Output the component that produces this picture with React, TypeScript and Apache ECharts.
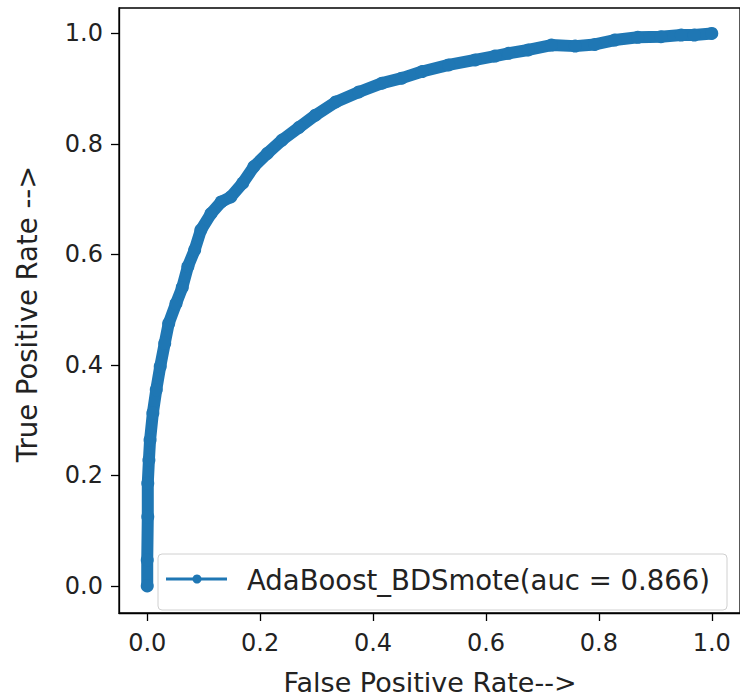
import React, { useEffect, useRef } from "react";
import * as echarts from "echarts";

const fpr = [0, 0, 0.001, 0.001, 0.003, 0.005, 0.010, 0.016, 0.023, 0.031, 0.038, 0.051, 0.062, 0.072, 0.084, 0.095, 0.113, 0.131, 0.148, 0.169, 0.189, 0.213, 0.239, 0.269, 0.298, 0.334, 0.375, 0.416, 0.451, 0.487, 0.534, 0.581, 0.616, 0.640, 0.675, 0.716, 0.758, 0.793, 0.828, 0.869, 0.910, 0.946, 0.969, 1.0];
const tpr = [0, 0.047, 0.125, 0.186, 0.228, 0.264, 0.313, 0.355, 0.397, 0.439, 0.475, 0.511, 0.540, 0.578, 0.608, 0.644, 0.674, 0.695, 0.704, 0.729, 0.759, 0.783, 0.807, 0.830, 0.852, 0.876, 0.894, 0.910, 0.919, 0.931, 0.943, 0.952, 0.959, 0.964, 0.970, 0.979, 0.977, 0.980, 0.988, 0.993, 0.994, 0.997, 0.997, 1.0];
const tickValues = [0, 0.2, 0.4, 0.6, 0.8, 1.0];
const legendLabel = "AdaBoost_BDSmote(auc = 0.866)";
const xTitle = "False Positive Rate-->";
const yTitle = "True Positive Rate -->";

const BLUE = "#1f77b4";
const FONT = "DejaVu Sans";

export default function App() {
  const ref = useRef<HTMLDivElement>(null);
  useEffect(() => {
    if (!ref.current) return;
    const chart = echarts.init(ref.current, undefined, { renderer: "svg" });
    const data = fpr.map((x, i) => [x, tpr[i]]);
    const axisCommon = {
      type: "value" as const,
      splitLine: { show: false },
      axisLine: { show: true, onZero: false, lineStyle: { color: "#000", width: 1.3 } },
      axisTick: { show: true, inside: false, length: 8, customValues: tickValues, lineStyle: { color: "#000", width: 1.3 } },
    };
    chart.setOption({
      animation: false,
      backgroundColor: "#fff",
      grid: { left: 119, top: 8, width: 623, height: 605, show: true, borderColor: "#000", borderWidth: 1.3, backgroundColor: "transparent", containLabel: false },
      xAxis: {
        ...axisCommon,
        min: -0.05,
        max: 1.05,
        axisLabel: { customValues: tickValues, formatter: (v: number) => v.toFixed(1), color: "#222", fontSize: 24, fontFamily: FONT, margin: 18 },
      },
      yAxis: {
        ...axisCommon,
        min: -0.049,
        max: 1.046,
        axisLabel: { customValues: tickValues, formatter: (v: number) => v.toFixed(1), color: "#222", fontSize: 24, fontFamily: FONT, margin: 16 },
      },
      series: [
        {
          type: "line",
          data,
          symbol: "circle",
          symbolSize: 13,
          showSymbol: true,
          lineStyle: { color: BLUE, width: 12, cap: "round", join: "round" },
          itemStyle: { color: BLUE, borderWidth: 0 },
          clip: false,
          z: 2,
        },
      ],
      graphic: [
        {
          type: "group",
          z: 100,
          children: [
            { type: "rect", shape: { x: 158, y: 554, width: 569, height: 56, r: 4 }, style: { fill: "rgba(255,255,255,0.8)", stroke: "#d0d0d0", lineWidth: 1 } },
            { type: "line", shape: { x1: 166, y1: 579, x2: 227, y2: 579 }, style: { stroke: BLUE, lineWidth: 3 } },
            { type: "circle", shape: { cx: 197, cy: 579, r: 4.5 }, style: { fill: BLUE } },
            { type: "text", x: 247, y: 580, style: { text: legendLabel, fontSize: 27.5, fontFamily: FONT, fill: "#222", align: "left", verticalAlign: "middle" } },
          ],
        },
        { type: "text", x: 430, y: 682, z: 100, style: { text: xTitle, fontSize: 27, fontFamily: FONT, fill: "#222", align: "center", verticalAlign: "middle" } },
        { type: "text", x: 27, y: 314, rotation: Math.PI / 2, z: 100, style: { text: yTitle, fontSize: 27.5, fontFamily: FONT, fill: "#222", align: "center", verticalAlign: "middle" } },
      ],
    });
    return () => chart.dispose();
  }, []);
  return <div ref={ref} style={{ position: "absolute", left: 0, top: 0, width: 740, height: 700 }} />;
}
